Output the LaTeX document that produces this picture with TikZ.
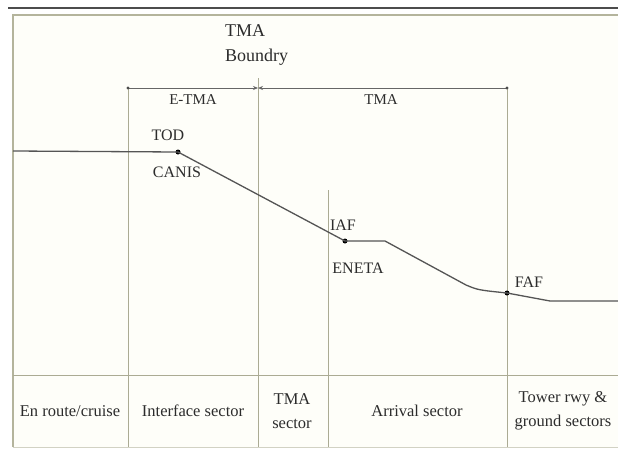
\documentclass[tikz,border=0pt]{standalone}
\usepackage{fontspec}
\setmainfont{Liberation Serif}
\usetikzlibrary{arrows.meta}
\definecolor{ink}{HTML}{2C2C2C}
\definecolor{rule}{HTML}{ABAB94}
\definecolor{frame}{HTML}{B4B49C}
\definecolor{paper}{HTML}{FEFEF9}
\definecolor{path}{HTML}{555555}
\tikzset{
  lbl/.style={text=ink, font=\fontsize{16}{18}\selectfont, inner sep=0pt},
  seclbl/.style={text=ink, font=\fontsize{16.5}{24}\selectfont, align=center, inner sep=0pt},
  spanlbl/.style={text=ink, font=\fontsize{15}{17}\selectfont, inner sep=0pt},
  divider/.style={draw=rule, line width=0.9pt},
  fix/.style={circle, fill=black, inner sep=0pt, minimum size=5pt},
  profile/.style={draw=path, line width=1.3pt, line join=round},
  span/.style={draw=black!60, line width=0.9pt, -{Stealth[length=5pt,width=4pt]}},
}
\begin{document}
\begin{tikzpicture}[x=1pt, y=-1pt]
\useasboundingbox (0,0) rectangle (618,450);
\fill[white] (0,0) rectangle (618,450);
\fill[paper] (13,15) rectangle (618,447);
% window edges
\draw[line width=2pt, draw=black!70] (8,8) -- (618,8);
\draw[line width=2.5pt, draw=frame] (13,447) -- (13,15) -- (618,15);
\draw[line width=0.8pt, draw=frame!60] (13,447) -- (618,447);
% sector row
\draw[divider] (13,375) -- (618,375);
\coordinate (v1t) at (128,88);  \coordinate (v1b) at (128,447);
\coordinate (v2t) at (258,78);  \coordinate (v2b) at (258,447);
\coordinate (v3t) at (328,190); \coordinate (v3b) at (328,447);
\coordinate (v4t) at (507,88);  \coordinate (v4b) at (507,447);
\draw[divider] (v1t) -- (v1b);
\draw[divider] (v2t) -- (v2b);
\draw[divider] (v3t) -- (v3b);
\draw[divider] (v4t) -- (v4b);
% span markers
\coordinate (sl) at (128,88);
\coordinate (sm) at (258,88);
\coordinate (sr) at (507,88);
\draw[span] (sl) -- (sm);
\draw[span] (sr) -- (sm);
\fill[black!70] (sl) circle (1.7pt) (sr) circle (1.7pt);
\node[text=ink, font=\fontsize{18}{25}\selectfont, align=left, anchor=west, inner sep=0pt] (bnd) at (225,45) {TMA\\Boundry};
\node[spanlbl] (etma) at (193,100) {E-TMA};
\node[spanlbl] (tma) at (381,100) {TMA};
% descent profile
\coordinate (start) at (13,151);
\node[fix] (tod) at (178,152) {};
\node[fix] (iaf) at (345,241) {};
\coordinate (lvl) at (385,241);
\coordinate (bend) at (466,285);
\node[fix] (faf) at (507,293) {};
\coordinate (lvl2) at (550,301);
\coordinate (end) at (618,301);
\draw[profile] (start) -- (tod.center) -- (iaf.center) -- (lvl) -- (bend)
  .. controls (478,290) .. (faf.center) -- (lvl2) -- (end);
\node[lbl] (todl) at (168,135) {TOD};
\node[lbl] (canis) at (177,172) {CANIS};
\node[lbl] (iafl) at (343,225) {IAF};
\node[lbl] (eneta) at (358,268) {ENETA};
\node[lbl] (fafl) at (529,282) {FAF};
% sector names
\node[seclbl] (s1) at (70,411) {En route/cruise};
\node[seclbl] (s2) at (193,411) {Interface sector};
\node[seclbl] (s3) at (292,411) {TMA\\sector};
\node[seclbl] (s4) at (417,411) {Arrival sector};
\node[seclbl] (s5) at (563,411) {Tower rwy \&\\ground sectors};
\end{tikzpicture}
\end{document}
